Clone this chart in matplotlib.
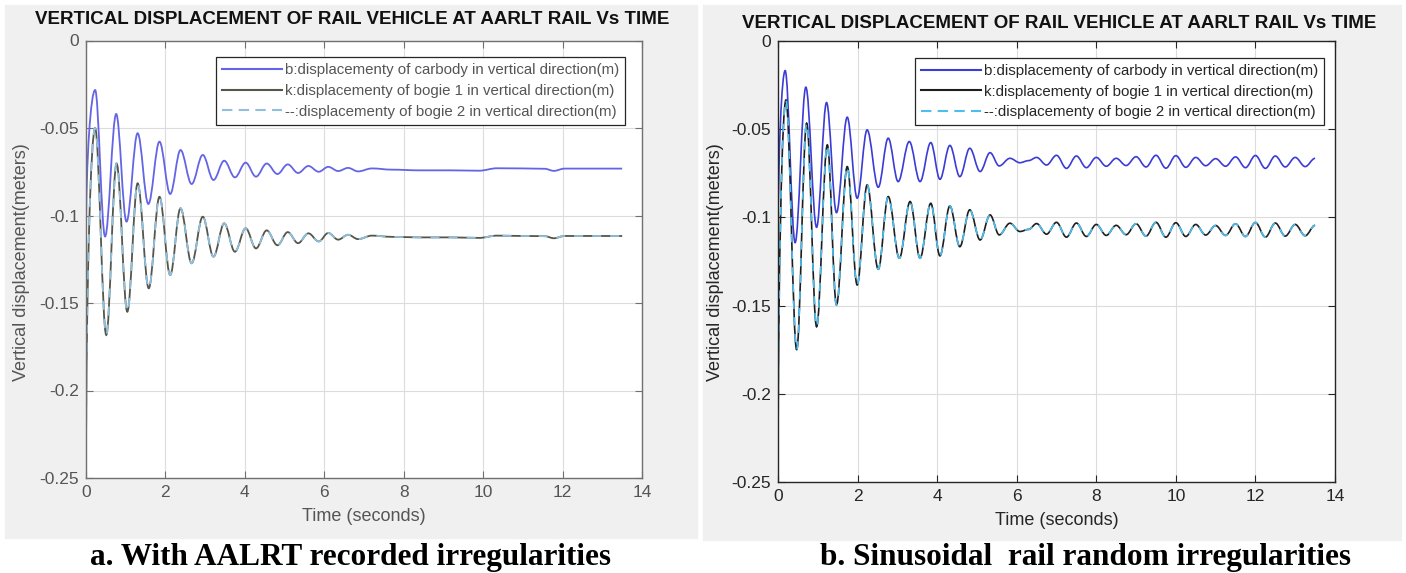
import matplotlib
matplotlib.use("Agg")
import matplotlib.pyplot as plt
from matplotlib import font_manager
from matplotlib.path import Path
from matplotlib.patches import PathPatch, Rectangle
from matplotlib.lines import Line2D

# ---- data (extrema of each trace) ----
# a. With AALRT recorded irregularities
t_body_a = [0.0, 0.23, 0.48, 0.76, 1.02, 1.30, 1.57, 1.85, 2.12, 2.38, 2.66, 2.94, 3.21,
            3.48, 3.75, 4.02, 4.28, 4.55, 4.82, 5.08, 5.34, 5.60, 5.86, 6.10, 6.35, 6.60,
            6.85, 7.20, 7.70, 8.40, 9.20, 9.90, 10.35, 11.00, 11.55, 11.78, 12.05, 13.50]
v_body_a = [-0.1140, -0.0283, -0.1120, -0.0420, -0.1035, -0.0530, -0.0934, -0.0578, -0.0877,
            -0.0626, -0.0820, -0.0654, -0.0797, -0.0687, -0.0782, -0.0698, -0.0778, -0.0703,
            -0.0763, -0.0708, -0.0757, -0.0717, -0.0750, -0.0722, -0.0746, -0.0728, -0.0748,
            -0.0731, -0.0738, -0.0742, -0.0742, -0.0744, -0.0730, -0.0731, -0.0733, -0.0745,
            -0.0732, -0.0732]
t_bogie_a = [0.0, 0.23, 0.51, 0.77, 1.04, 1.30, 1.58, 1.85, 2.12, 2.38, 2.66, 2.94, 3.21,
             3.48, 3.75, 4.02, 4.28, 4.55, 4.82, 5.08, 5.34, 5.60, 5.86, 6.10, 6.35, 6.60,
             6.85, 7.20, 7.70, 8.40, 9.20, 9.90, 10.35, 11.00, 11.55, 11.78, 12.05, 13.50]
v_bogie_a = [-0.2500, -0.0500, -0.1683, -0.0702, -0.1550, -0.0816, -0.1416, -0.0893, -0.1340,
             -0.0959, -0.1273, -0.1007, -0.1235, -0.1045, -0.1207, -0.1073, -0.1188, -0.1085,
             -0.1170, -0.1095, -0.1158, -0.1102, -0.1148, -0.1100, -0.1138, -0.1110, -0.1135,
             -0.1115, -0.1122, -0.1125, -0.1125, -0.1128, -0.1115, -0.1117, -0.1118, -0.1130,
             -0.1117, -0.1117]

# b. Sinusoidal rail random irregularities
t_body_b = [0.0, 0.18, 0.43, 0.70, 0.97, 1.22, 1.47, 1.74, 1.99, 2.24, 2.52, 2.77, 3.02,
            3.30, 3.57, 3.84, 4.07, 4.32, 4.57, 4.82, 5.08, 5.33, 5.56, 5.83, 6.08, 6.30,
            6.50, 6.75, 7.00, 7.25, 7.50, 7.75, 8.00, 8.25, 8.50, 8.75, 9.00, 9.25, 9.50,
            9.75, 10.00, 10.25, 10.50, 10.75, 11.00, 11.25, 11.50, 11.75, 12.00, 12.25,
            12.50, 12.75, 13.00, 13.25, 13.50]
v_body_b = [-0.1185, -0.0168, -0.1143, -0.0262, -0.1056, -0.0349, -0.0973, -0.0432, -0.0891,
            -0.0504, -0.0829, -0.0551, -0.0797, -0.0570, -0.0797, -0.0576, -0.0784, -0.0592,
            -0.0769, -0.0608, -0.0740, -0.0633, -0.0708, -0.0665, -0.0690, -0.0678, -0.0660,
            -0.0703, -0.0648, -0.0722, -0.0652, -0.0718, -0.0660, -0.0710, -0.0665, -0.0706,
            -0.0656, -0.0714, -0.0648, -0.0721, -0.0650, -0.0716, -0.0660, -0.0707, -0.0667,
            -0.0710, -0.0657, -0.0718, -0.0649, -0.0722, -0.0652, -0.0714, -0.0660, -0.0712,
            -0.0665]
t_bogie_b = [0.0, 0.20, 0.47, 0.72, 0.97, 1.24, 1.47, 1.74, 1.99, 2.24, 2.52, 2.77, 3.05,
             3.32, 3.57, 3.84, 4.07, 4.32, 4.57, 4.82, 5.08, 5.33, 5.56, 5.83, 6.08, 6.30,
             6.50, 6.75, 7.00, 7.25, 7.50, 7.75, 8.00, 8.25, 8.50, 8.75, 9.00, 9.25, 9.50,
             9.75, 10.00, 10.25, 10.50, 10.75, 11.00, 11.25, 11.50, 11.75, 12.00, 12.25,
             12.50, 12.75, 13.00, 13.25, 13.50]
v_bogie_b = [-0.2500, -0.0334, -0.1751, -0.0466, -0.1620, -0.0589, -0.1496, -0.0712, -0.1383,
             -0.0816, -0.1294, -0.0882, -0.1231, -0.0910, -0.1231, -0.0920, -0.1218, -0.0935,
             -0.1166, -0.0957, -0.1128, -0.0986, -0.1099, -0.1033, -0.1080, -0.1068, -0.1035,
             -0.1095, -0.1028, -0.1112, -0.1032, -0.1108, -0.1040, -0.1102, -0.1045, -0.1098,
             -0.1036, -0.1106, -0.1028, -0.1112, -0.1030, -0.1108, -0.1040, -0.1100, -0.1046,
             -0.1102, -0.1036, -0.1108, -0.1029, -0.1112, -0.1032, -0.1106, -0.1040, -0.1104,
             -0.1045]

title = 'VERTICAL DISPLACEMENT OF RAIL VEHICLE AT AARLT RAIL Vs TIME'
legend_labels = ['b:displacementy of carbody in vertical direction(m)',
                 'k:displacementy of bogie 1 in vertical direction(m)',
                 '--:displacementy of bogie 2 in vertical direction(m)']
captions = ['a. With AALRT recorded irregularities',
            'b. Sinusoidal  rail random irregularities']
xticks = [0, 2, 4, 6, 8, 10, 12, 14]
yticks = [0, -0.05, -0.1, -0.15, -0.2, -0.25]
ytick_labels = ['0', '-0.05', '-0.1', '-0.15', '-0.2', '-0.25']

names = {f.name for f in font_manager.fontManager.ttflist}
narrow = 'Liberation Sans Narrow' if 'Liberation Sans Narrow' in names else 'Liberation Sans'
plt.rcParams['font.family'] = ['Liberation Sans', 'DejaVu Sans']


def wave(t, v):
    # smooth trace through the extrema (horizontal tangent at each extremum)
    verts = [(t[0], v[0])]
    codes = [Path.MOVETO]
    for i in range(1, len(t)):
        dt = t[i] - t[i - 1]
        if i == 1:
            c1 = (t[0], v[0] + 0.55 * (v[1] - v[0]))
            c2 = (t[1] - 0.45 * dt, v[1])
        else:
            c1 = (t[i - 1] + 0.36 * dt, v[i - 1])
            c2 = (t[i] - 0.36 * dt, v[i])
        verts += [c1, c2, (t[i], v[i])]
        codes += [Path.CURVE4] * 3
    return Path(verts, codes)


fig = plt.figure(figsize=(14.06, 5.73), dpi=100)
fig.patches.append(Rectangle((5 / 1406, 1 - 538 / 573), 692 / 1406, 533 / 573,
                             transform=fig.transFigure, color='#f0f0f0', zorder=-5))
fig.patches.append(Rectangle((703 / 1406, 1 - 540 / 573), 698 / 1406, 535 / 573,
                             transform=fig.transFigure, color='#f0f0f0', zorder=-5))

panels = [
    dict(pos=[86 / 1406, 1 - 478 / 573, 556 / 1406, 437.5 / 573],
         body=(t_body_a, v_body_a), bogie=(t_bogie_a, v_bogie_a),
         cb='#6464e6', ck='#55554a', cc='#8fc0de', txt='#555555', spine='#707070',
         tx=352, ty=20, lx=0.969, cap_x=350, ylx=22, lsize=10.8, lw=1.3),
    dict(pos=[778 / 1406, 1 - 482 / 573, 557 / 1406, 441 / 573],
         body=(t_body_b, v_body_b), bogie=(t_bogie_b, v_bogie_b),
         cb='#3b3bd6', ck='#1e1e1e', cc='#4dbeee', txt='#262626', spine='#262626',
         tx=1059, ty=24, lx=0.980, cap_x=1085, ylx=716, lsize=10.8, lw=1.2),
]

for p in panels:
    ax = fig.add_axes(p['pos'])
    ax.set_xlim(0, 14)
    ax.set_ylim(-0.25, 0)
    ax.set_xticks(xticks)
    ax.set_yticks(yticks)
    ax.set_yticklabels(ytick_labels)
    ax.grid(True, color='#dcdcdc', lw=0.8)
    ax.set_axisbelow(True)
    ax.tick_params(direction='in', top=True, right=True, length=5, width=0.8,
                   colors=p['spine'], labelcolor=p['txt'], labelsize=12.5, pad=5)
    for s in ax.spines.values():
        s.set_color(p['spine'])
        s.set_linewidth(1.0)

    tb, vb = p['body']
    tk, vk = p['bogie']
    ax.add_patch(PathPatch(wave(tb, vb), fill=False, edgecolor=p['cb'], lw=p['lw']))
    ax.add_patch(PathPatch(wave(tk, vk), fill=False, edgecolor=p['ck'], lw=p['lw']))
    ax.add_patch(PathPatch(wave(tk, vk), fill=False, edgecolor=p['cc'], lw=p['lw'],
                           linestyle=(0, (5, 5))))

    handles = [Line2D([], [], color=p['cb'], lw=1.5),
               Line2D([], [], color=p['ck'], lw=1.5),
               Line2D([], [], color=p['cc'], lw=1.5, linestyle=(0, (5, 3)))]
    leg = ax.legend(handles, legend_labels, loc='upper right',
                    bbox_to_anchor=(p['lx'], 0.962), frameon=True, fancybox=False,
                    framealpha=1, edgecolor='#262626', handlelength=4.0,
                    handletextpad=0.15, borderpad=0.4, labelspacing=0.45,
                    borderaxespad=0, prop=dict(family=[narrow, 'DejaVu Sans'], size=p['lsize']))
    leg.get_frame().set_linewidth(0.9)
    for txt in leg.get_texts():
        txt.set_color(p['txt'])

    ax.set_xlabel('Time (seconds)', fontsize=13, color=p['txt'], labelpad=6)
    fig.text(p['ylx'] / 1406, 1 - 262 / 573, 'Vertical displacement(meters)', rotation=90,
             ha='center', va='center', fontsize=13, color=p['txt'])
    fig.text(p['tx'] / 1406, 1 - p['ty'] / 573, title, ha='center', va='center',
             fontsize=13.5, fontweight='bold', color='#111111',
             family=[narrow, 'DejaVu Sans'])

for cap, p in zip(captions, panels):
    fig.text(p['cap_x'] / 1406, 1 - 557 / 573, cap, ha='center', va='center',
             fontsize=22.5, fontweight='bold', family=['Liberation Serif', 'DejaVu Serif'])

fig.savefig('out.png', dpi=100)
